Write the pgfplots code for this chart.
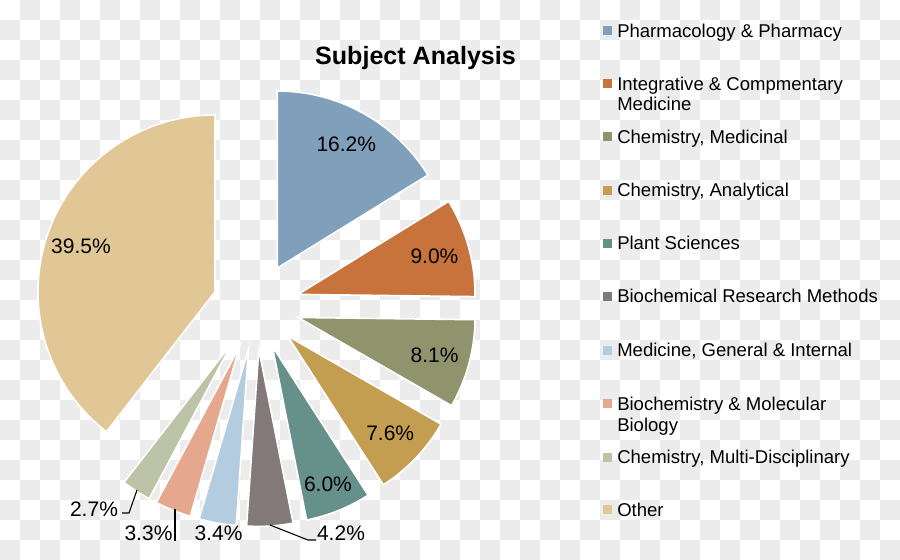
\documentclass[border=0pt]{standalone}
\usepackage{pgfplots}
\pgfplotsset{compat=1.18}
\usepackage{pgfplotstable}
\usepackage{fontspec}
\setmainfont{Liberation Sans}

\definecolor{c1}{HTML}{7F9FBA}
\definecolor{c2}{HTML}{C8733C}
\definecolor{c3}{HTML}{8F946C}
\definecolor{c4}{HTML}{C39E50}
\definecolor{c5}{HTML}{66918A}
\definecolor{c6}{HTML}{827978}
\definecolor{c7}{HTML}{B4CCE0}
\definecolor{c8}{HTML}{E5A78E}
\definecolor{c9}{HTML}{BDC3A6}
\definecolor{c10}{HTML}{E2C796}
\definecolor{bgg}{HTML}{ECECEC}

% share (%), colour, label inside the slice (1) or not (0), label radius factor
\pgfplotstableread{
share col inside lf
16.2 c1 1 0.80
9.0  c2 1 0.80
8.1  c3 1 0.80
7.6  c4 1 0.80
6.0  c5 1 0.84
4.2  c6 0 0.80
3.4  c7 0 0.80
3.3  c8 0 0.80
2.7  c9 0 0.80
39.5 c10 1 0.80
}\pietable

% pie geometry in pixel units: centre, radius, explode distance
\def\pieCx{256.1}
\def\pieCy{306}
\def\pieR{177}
\def\pieD{43.5}

\newcommand\lblfont{\fontsize{15.75pt}{18pt}\selectfont}
\newcommand\legfont{\fontsize{13.9pt}{16pt}\selectfont}

% legend row: y of first line (px), colour, line 1, line 2
\newcommand\legitem[4]{%
  \pgfmathsetmacro\ya{#1-4.5}\pgfmathsetmacro\yb{#1+4.5}%
  \pgfmathsetmacro\yt{#1+6.5}\pgfmathsetmacro\ytt{#1+6.5+21}%
  \edef\temp{\noexpand\fill[#2] (axis cs:602.5,\ya) rectangle (axis cs:611.5,\yb);
    \noexpand\node[anchor=base west, font=\noexpand\legfont, inner sep=0pt] at (axis cs:617,\yt) {#3};
    \noexpand\node[anchor=base west, font=\noexpand\legfont, inner sep=0pt] at (axis cs:617,\ytt) {#4};}%
  \temp}

\begin{document}
\begin{tikzpicture}
\useasboundingbox (0,0) rectangle (675pt,420pt);
% checkered background of the source image, 20 px cells
\fill[white] (0,0) rectangle (675pt,420pt);
\foreach \i in {0,...,44}{%
  \foreach \j in {0,...,27}{%
    \pgfmathtruncatemacro\k{mod(\i+\j,2)}%
    \ifnum\k=1 \fill[bgg] (\i*15pt,420pt-\j*15pt) rectangle ++(15pt,-15pt);\fi
  }}
\begin{axis}[
    at={(0,0)}, anchor=south west,
    scale only axis,
    width=675pt, height=420pt,
    xmin=0, xmax=900,
    ymin=0, ymax=560,
    y dir=reverse,
    hide axis,
    clip=false,
  ]
  % slices, clockwise from 12 o'clock
  \def\cum{90}
  \pgfplotsforeachungrouped \i in {0,...,9}{%
    \pgfplotstablegetelem{\i}{share}\of\pietable \let\pv\pgfplotsretval
    \pgfplotstablegetelem{\i}{col}\of\pietable \let\pc\pgfplotsretval
    \pgfplotstablegetelem{\i}{inside}\of\pietable \let\pin\pgfplotsretval
    \pgfplotstablegetelem{\i}{lf}\of\pietable \let\plf\pgfplotsretval
    \pgfmathsetmacro\pa{\cum}%
    \pgfmathsetmacro\pb{\cum-3.6*\pv}%
    \pgfmathsetmacro\pmid{(\pa+\pb)/2}%
    \pgfmathsetmacro\vx{\pieCx+\pieD*cos(\pmid)}%
    \pgfmathsetmacro\vy{\pieCy-\pieD*sin(\pmid)}%
    \edef\temp{\noexpand\addplot[fill=\pc, draw=white, line width=1.2pt,
        domain=\pb:\pa, samples=80]
      ({\vx+\pieR*cos(x)}, {\vy-\pieR*sin(x)}) -- (axis cs:\vx,\vy) -- cycle;}%
    \temp
    \ifnum\pin=1
      \pgfmathsetmacro\lx{\vx+\plf*\pieR*cos(\pmid)}%
      \pgfmathsetmacro\ly{\vy-\plf*\pieR*sin(\pmid)}%
      \edef\temp{\noexpand\node[font=\noexpand\lblfont] at (axis cs:\lx,\ly) {\pv\noexpand\%};}%
      \temp
    \fi
    \let\cum\pb
  }

  % labels of the small slices, with leader lines
  \node[font=\lblfont] at (axis cs:94,509) {2.7\%};
  \node[font=\lblfont] at (axis cs:148.5,533) {3.3\%};
  \node[font=\lblfont] at (axis cs:218.5,533) {3.4\%};
  \node[font=\lblfont] at (axis cs:341,533) {4.2\%};
  \draw[black, line width=0.8pt] (axis cs:122,513) -- (axis cs:129,513) -- (axis cs:137,490);
  \draw[black, line width=0.8pt] (axis cs:175,541) -- (axis cs:175,509);
  \draw[black, line width=0.8pt] (axis cs:270,525) -- (axis cs:308,540) -- (axis cs:316,540);

  % title
  \node[font=\bfseries\fontsize{18.8pt}{22pt}\selectfont] at (axis cs:415.5,58) {Subject Analysis};

  % legend
  \legitem{30.7}{c1}{Pharmacology \& Pharmacy}{}
  \legitem{83.5}{c2}{Integrative \& Compmentary}{Medicine}
  \legitem{136.7}{c3}{Chemistry, Medicinal}{}
  \legitem{190}{c4}{Chemistry, Analytical}{}
  \legitem{243}{c5}{Plant Sciences}{}
  \legitem{296.3}{c6}{Biochemical Research Methods}{}
  \legitem{350}{c7}{Medicine, General \& Internal}{}
  \legitem{403.5}{c8}{Biochemistry \& Molecular}{Biology}
  \legitem{457}{c9}{Chemistry, Multi-Disciplinary}{}
  \legitem{509.5}{c10}{Other}{}
\end{axis}
\end{tikzpicture}
\end{document}
